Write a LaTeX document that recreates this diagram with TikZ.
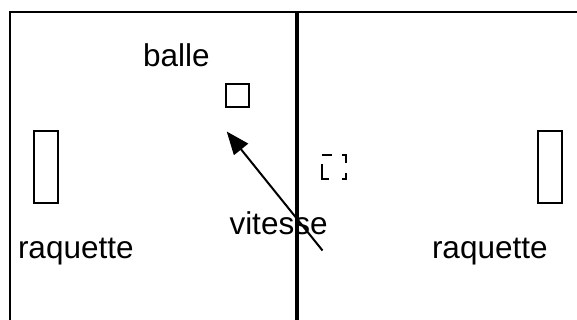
\documentclass[tikz,border=0pt]{standalone}
\usepackage{fontspec}
\setmainfont{Liberation Sans}
\usetikzlibrary{arrows.meta}
\begin{document}
\begin{tikzpicture}[x=1pt,y=-1pt,
  lbl/.style={inner sep=0pt,outer sep=0pt,anchor=base west,font=\fontsize{31.5}{36}\selectfont},
  paddle/.style={draw,line width=2pt,inner sep=0pt,minimum width=24pt,minimum height=71pt},
  ballbox/.style={draw,line width=2pt,inner sep=0pt,minimum width=23pt,minimum height=23.5pt},
  ghostbox/.style={inner sep=0pt,outer sep=0pt,minimum width=24pt,minimum height=24pt},
  ghostline/.style={line width=2pt,dash pattern=on 10pt off 10pt on 12pt off 10pt on 10pt off 13pt on 22pt off 11pt on 2pt},
  frame/.style={line width=2pt},
  net/.style={line width=4pt},
  vel/.style={line width=2pt,-{Triangle[length=23pt,width=18pt]}}]
\useasboundingbox (0,0) rectangle (577,320);
\coordinate (tl) at (10,12);
\coordinate (tr) at (578,12);
\coordinate (bl) at (10,321);
\coordinate (nt) at (296.5,12);
\coordinate (nb) at (296.5,321);
\draw[frame] (tr) -- (tl) -- (bl);
\draw[net] (nt) -- (nb);
\node[paddle] (p1) at (46.2,167) {};
\node[paddle] (p2) at (550.3,167) {};
\node[ballbox] (ball) at (237.8,95.3) {};
\node[ghostbox] (ghost) at (333.8,167.2) {};
\draw[ghostline] (ghost.north west) -- (ghost.north east) -- (ghost.south east) -- (ghost.south west) -- cycle;
\node[lbl] (lballe) at (143,66.7) {balle};
\node[lbl] (lvit) at (229.5,234.5) {vitesse};
\node[lbl] (lr1) at (18,258) {raquette};
\node[lbl] (lr2) at (432,258) {raquette};
\coordinate (vtail) at (322.5,250.5);
\coordinate (vtip) at (226.7,131.5);
\draw[vel] (vtail) -- (vtip);
\end{tikzpicture}
\end{document}
